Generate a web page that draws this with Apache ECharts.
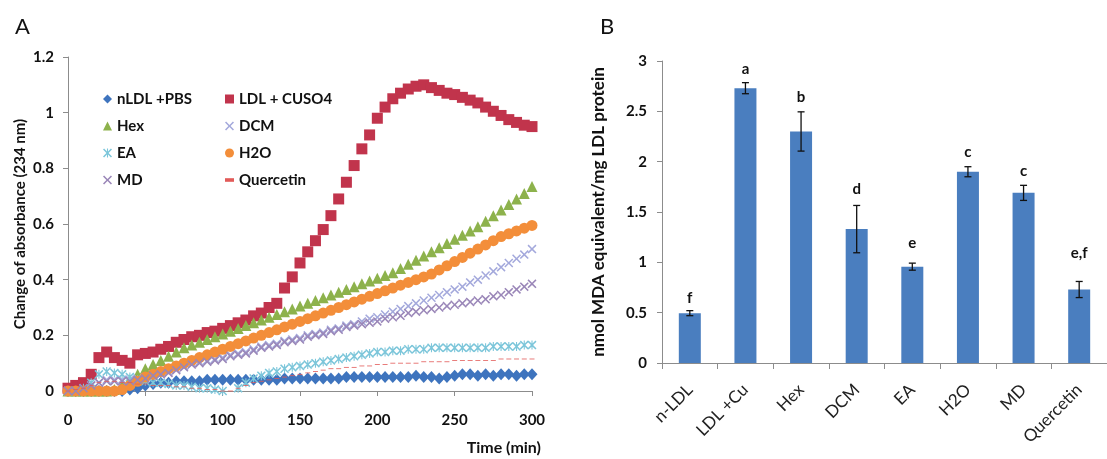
<!DOCTYPE html>
<html>
<head>
<meta charset="utf-8">
<script src="https://cdn.jsdelivr.net/npm/echarts@6/dist/echarts.min.js"></script>
<style>
html,body{margin:0;padding:0;background:#fff;}
#c{width:1107px;height:459px;}
</style>
</head>
<body>
<div id="c"></div>
<script>
// ---------- Panel A data (time course, every 5 min) ----------
var times = [0,5,10,15,20,25,30,35,40,45,50,55,60,65,70,75,80,85,90,95,100,105,110,115,120,125,130,135,140,145,150,155,160,165,170,175,180,185,190,195,200,205,210,215,220,225,230,235,240,245,250,255,260,265,270,275,280,285,290,295,300];
var nLDL = [0,0,0,0,0,0,0,0,0.005,0.01, 0.02,0.025,0.03,0.03,0.035,0.035,0.035,0.035,0.04,0.04, 0.04,0.04,0.04,0.04,0.04,0.04,0.04,0.04,0.045,0.045, 0.045,0.045,0.045,0.045,0.045,0.045,0.05,0.05,0.05,0.05, 0.05,0.05,0.05,0.05,0.05,0.055,0.05,0.05,0.045,0.05, 0.055,0.06,0.06,0.055,0.06,0.055,0.06,0.06,0.055,0.06, 0.06];
var ldlCu = [0.01,0.02,0.03,0.06,0.12,0.14,0.12,0.11,0.10,0.13, 0.135,0.14,0.15,0.16,0.175,0.185,0.195,0.20,0.21,0.215, 0.225,0.235,0.245,0.255,0.27,0.28,0.30,0.315,0.37,0.41, 0.46,0.50,0.54,0.58,0.63,0.69,0.75,0.81,0.87,0.92, 0.98,1.02,1.05,1.07,1.085,1.095,1.10,1.09,1.08,1.07, 1.065,1.055,1.045,1.035,1.02,1.005,0.99,0.975,0.965,0.955, 0.95];
var hex = [0,0,0,0,0,0,0.005,0.02,0.04,0.06, 0.08,0.095,0.11,0.125,0.14,0.155,0.165,0.175,0.185,0.195, 0.205,0.215,0.225,0.235,0.245,0.255,0.265,0.275,0.285,0.295, 0.305,0.315,0.325,0.335,0.345,0.355,0.365,0.375,0.385,0.395, 0.405,0.415,0.425,0.44,0.455,0.47,0.485,0.50,0.515,0.53, 0.545,0.56,0.575,0.59,0.61,0.63,0.65,0.67,0.69,0.71, 0.735];
var dcm = [0,0,0.01,0.02,0.03,0.04,0.04,0.04,0.04,0.045, 0.05,0.06,0.065,0.07,0.08,0.09,0.10,0.105,0.11,0.115, 0.12,0.13,0.135,0.14,0.15,0.16,0.165,0.17,0.18,0.185, 0.19,0.20,0.205,0.21,0.22,0.225,0.235,0.24,0.25,0.26, 0.265,0.275,0.285,0.295,0.305,0.315,0.325,0.335,0.345,0.355, 0.365,0.375,0.39,0.40,0.415,0.43,0.445,0.46,0.475,0.49, 0.51];
var ea = [0,0,0.01,0.03,0.06,0.07,0.065,0.06,0.05,0.04, 0.035,0.03,0.03,0.025,0.02,0.02,0.015,0.01,0.01,0.005, 0,-0.01,0.01,0.03,0.045,0.055,0.065,0.07,0.08,0.085, 0.09,0.095,0.10,0.105,0.11,0.115,0.12,0.125,0.13,0.135, 0.14,0.14,0.145,0.145,0.15,0.15,0.15,0.155,0.155,0.155, 0.155,0.155,0.155,0.155,0.155,0.16,0.16,0.16,0.16,0.165, 0.165];
var h2o = [0,0,0,0,0,0,0,0.005,0.02,0.035, 0.05,0.06,0.07,0.08,0.09,0.10,0.11,0.12,0.13,0.14, 0.15,0.16,0.17,0.18,0.19,0.20,0.21,0.22,0.23,0.24, 0.25,0.26,0.27,0.28,0.29,0.30,0.31,0.32,0.33,0.34, 0.35,0.36,0.37,0.38,0.39,0.40,0.41,0.42,0.435,0.45, 0.465,0.48,0.495,0.51,0.525,0.54,0.555,0.565,0.575,0.585, 0.595];
var md = [0,0,0.01,0.02,0.03,0.035,0.035,0.035,0.035,0.04, 0.045,0.055,0.06,0.065,0.075,0.085,0.095,0.10,0.105,0.11, 0.115,0.125,0.13,0.135,0.145,0.155,0.16,0.165,0.175,0.18, 0.185,0.195,0.20,0.205,0.215,0.22,0.23,0.235,0.24,0.245, 0.25,0.26,0.265,0.27,0.28,0.285,0.29,0.295,0.30,0.305, 0.31,0.315,0.32,0.325,0.33,0.34,0.345,0.355,0.365,0.375, 0.385];
var quercetin = [0,0.005,0.01,0.02,0.03,0.035,0.035,0.03,0.03,0.025, 0.025,0.02,0.02,0.02,0.015,0.015,0.01,0.01,0.005,0.005, 0,0,0.01,0.02,0.03,0.035,0.04,0.045,0.05,0.055, 0.06,0.065,0.07,0.075,0.08,0.08,0.085,0.085,0.09,0.09, 0.095,0.095,0.10,0.10,0.10,0.10,0.105,0.105,0.105,0.105, 0.11,0.11,0.11,0.11,0.11,0.11,0.115,0.115,0.115,0.115, 0.115];
var seriesNamesA = ['nLDL +PBS','LDL + CUSO4','Hex','DCM','EA','H2O','MD','Quercetin'];

// ---------- Panel B data ----------
var bCategories = ['n-LDL','LDL +Cu','Hex','DCM','EA','H2O','MD','Quercetin'];
var bValues = [0.495, 2.73, 2.30, 1.33, 0.957, 1.90, 1.69, 0.73];
var bErrors = [0.025, 0.055, 0.195, 0.235, 0.035, 0.05, 0.075, 0.08];
var bLetters = ['f','a','b','d','e','c','c','e,f'];
var bLetterY = [0.643, 2.92, 2.645, 1.73, 1.19, 2.09, 1.91, 1.09];

var FONT = 'Lato, "Open Sans", sans-serif';

function pairs(vals){ return times.map(function(t,i){ return [t, vals[i]]; }); }

var X_PATH = 'path://M0,1.2L1.2,0L5,3.8L8.8,0L10,1.2L6.2,5L10,8.8L8.8,10L5,6.2L1.2,10L0,8.8L3.8,5Z';
var STAR_PATH = 'path://M0,1.2L1.2,0L4.4,3.2L4.4,0L5.6,0L5.6,3.2L8.8,0L10,1.2L6.2,5L10,8.8L8.8,10L5.6,6.8L5.6,10L4.4,10L4.4,6.8L1.2,10L0,8.8L3.8,5Z';
var DASH_PATH = 'path://M0,0L10,0L10,4L0,4Z';

var chart = echarts.init(document.getElementById('c'));

function scat(name, vals, symbol, size, color, z){
  return {
    type:'scatter', name:name, xAxisIndex:0, yAxisIndex:0,
    data: pairs(vals), symbol:symbol, symbolSize:size, symbolKeepAspect:true,
    itemStyle:{color:color, opacity:1}, z:z, animation:false, silent:true
  };
}

var legendText = {fontFamily:FONT, fontWeight:'bold', fontSize:15, color:'#111', lineHeight:18};

var option = {
  backgroundColor:'#fff',
  animation:false,
  title:[
    {text:'A', left:10, top:11, textStyle:{fontFamily:FONT, fontSize:22, fontWeight:'normal', color:'#111'}},
    {text:'B', left:595, top:11, textStyle:{fontFamily:FONT, fontSize:22, fontWeight:'normal', color:'#111'}}
  ],
  legend:[
    {data:[seriesNamesA[0],seriesNamesA[2],seriesNamesA[4],seriesNamesA[6]], orient:'vertical', left:98, top:85, itemGap:9, itemWidth:9, itemHeight:9, textStyle:legendText, selectedMode:false},
    {data:[seriesNamesA[1],seriesNamesA[3],seriesNamesA[5],seriesNamesA[7]], orient:'vertical', left:220, top:85, itemGap:9, itemWidth:9, itemHeight:9, textStyle:legendText, selectedMode:false}
  ],
  grid:[
    {left:68, right:575, top:57, bottom:68},
    {left:662, width:446, top:61, bottom:96}
  ],
  xAxis:[
    {type:'value', gridIndex:0, min:0, max:300, interval:50,
     axisLine:{show:true, lineStyle:{color:'#8c8c8c', width:1}},
     axisTick:{show:true, length:5, lineStyle:{color:'#8c8c8c'}},
     splitLine:{show:false},
     axisLabel:{margin:22, fontFamily:FONT, fontWeight:'bold', fontSize:15, color:'#111'}},
    {type:'category', gridIndex:1, data:bCategories,
     axisLine:{show:true, lineStyle:{color:'#8c8c8c', width:1}},
     axisTick:{show:true, length:6, alignWithLabel:false, lineStyle:{color:'#8c8c8c'}},
     axisLabel:{rotate:45, margin:24, interval:0, fontFamily:FONT, fontSize:17, color:'#222'}}
  ],
  yAxis:[
    {type:'value', gridIndex:0, min:0, max:1.2, interval:0.2,
     name:'Change of absorbance (234 nm)', nameLocation:'middle', nameGap:40, nameRotate:90,
     nameTextStyle:{fontFamily:FONT, fontWeight:'bold', fontSize:15, color:'#111'},
     axisLine:{show:true, lineStyle:{color:'#8c8c8c', width:1}},
     axisTick:{show:true, length:5, lineStyle:{color:'#8c8c8c'}},
     splitLine:{show:false},
     axisLabel:{margin:14, fontFamily:FONT, fontWeight:'bold', fontSize:15, color:'#111'}},
    {type:'value', gridIndex:1, min:0, max:3, interval:0.5,
     name:'nmol MDA equivalent/mg LDL protein', nameLocation:'middle', nameGap:55, nameRotate:90,
     nameTextStyle:{fontFamily:FONT, fontWeight:'bold', fontSize:17, color:'#111'},
     axisLine:{show:true, lineStyle:{color:'#8c8c8c', width:1}},
     axisTick:{show:true, length:5, lineStyle:{color:'#8c8c8c'}},
     splitLine:{show:false},
     axisLabel:{margin:15, fontFamily:FONT, fontWeight:'bold', fontSize:15, color:'#111'}}
  ],
  graphic:[
    {type:'text', right:1107-541, top:440, style:{text:'Time (min)', fontFamily:FONT, fontWeight:'bold', fontSize:16, fill:'#111'}}
  ],
  series:[
    scat(seriesNamesA[0], nLDL, 'diamond', [11,12], '#3e74be', 2),
    scat(seriesNamesA[1], ldlCu, 'rect', 11, '#c1344c', 3),
    scat(seriesNamesA[2], hex, 'triangle', 11, '#8db24c', 4),
    scat(seriesNamesA[3], dcm, X_PATH, 9, '#a4a9dc', 5),
    scat(seriesNamesA[4], ea, STAR_PATH, 9, '#7cc6da', 6),
    scat(seriesNamesA[5], h2o, 'circle', 11, '#f38e3a', 7),
    scat(seriesNamesA[6], md, X_PATH, 9, '#9a86b8', 8),
    scat(seriesNamesA[7], quercetin, DASH_PATH, [5,2], '#e25a58', 9),
    {type:'bar', xAxisIndex:1, yAxisIndex:1, data:bValues, barWidth:22,
     itemStyle:{color:'#4a7ebf'}, silent:true, z:2},
    {type:'custom', xAxisIndex:1, yAxisIndex:1, silent:true, z:5,
     data: bValues.map(function(v,i){ return [i, v - bErrors[i], v + bErrors[i], bLetterY[i]]; }),
     renderItem:function(params, api){
       var lo = api.coord([api.value(0), api.value(1)]);
       var hi = api.coord([api.value(0), api.value(2)]);
       var lt = api.coord([api.value(0), api.value(3)]);
       var cw = 3.5;
       var ls = {stroke:'#111', lineWidth:1.3};
       return {type:'group', children:[
         {type:'line', shape:{x1:lo[0], y1:lo[1], x2:hi[0], y2:hi[1]}, style:ls},
         {type:'line', shape:{x1:lo[0]-cw, y1:lo[1], x2:lo[0]+cw, y2:lo[1]}, style:ls},
         {type:'line', shape:{x1:hi[0]-cw, y1:hi[1], x2:hi[0]+cw, y2:hi[1]}, style:ls},
         {type:'text', style:{text:bLetters[params.dataIndex], x:lt[0], y:lt[1], align:'center', verticalAlign:'middle',
           fontFamily:FONT, fontWeight:'bold', fontSize:15, fill:'#111'}}
       ]};
     }}
  ]
};
chart.setOption(option);
</script>
</body>
</html>
